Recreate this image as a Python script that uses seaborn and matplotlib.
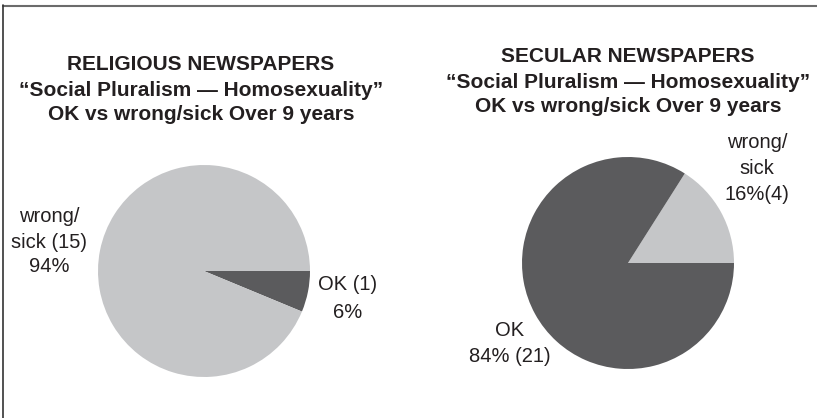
import matplotlib
matplotlib.use("Agg")
import matplotlib.pyplot as plt
import seaborn as sns
from matplotlib.lines import Line2D

# dane
categories = ["OK", "wrong/sick"]
religious_counts = [1, 15]
secular_counts = [21, 4]

religious_title = ["RELIGIOUS NEWSPAPERS",
                   "\u201cSocial Pluralism \u2014 Homosexuality\u201d",
                   "OK vs wrong/sick Over 9 years"]
secular_title = ["SECULAR NEWSPAPERS",
                 "\u201cSocial Pluralism \u2014 Homosexuality\u201d",
                 "OK vs wrong/sick Over 9 years"]

religious_labels = {"OK": ["OK (1)", "6%"],
                    "wrong/sick": ["wrong/", "sick (15)", "94%"]}
secular_labels = {"OK": ["OK", "84% (21)"],
                  "wrong/sick": ["wrong/", "sick", "16%(4)"]}

# styl
sns.set_style("white")
plt.rcParams["font.family"] = ["Liberation Sans", "DejaVu Sans"]
LIGHT = "#c5c6c8"
DARK = "#5b5b5d"
TXT = "#231f20"
W, H = 817, 418

fig = plt.figure(figsize=(W / 100, H / 100), dpi=100)


def px(x, y):
    # piksele od lewego-górnego rogu -> współrzędne figury
    return x / W, 1 - y / H


def draw_pie(cx, cy, r, values, colors, counterclock):
    ax = fig.add_axes([(cx - r) / W, (H - cy - r) / H, 2 * r / W, 2 * r / H])
    ax.pie(values, colors=colors, startangle=0, counterclock=counterclock,
           wedgeprops=dict(linewidth=0))
    ax.set_xlim(-1, 1)
    ax.set_ylim(-1, 1)
    ax.set_aspect("equal")
    ax.axis("off")
    return ax


def draw_lines(x, y0, lines, step, size=14.5, **kw):
    for i, line in enumerate(lines):
        fig.text(*px(x, y0 + i * step), line, ha="center", va="center",
                 color=TXT, fontsize=size, **kw)


# wykres 1 - gazety religijne (OK pierwszy, zgodnie z ruchem wskazówek)
draw_pie(204, 271, 106, religious_counts, [DARK, LIGHT], counterclock=False)
draw_lines(201, 65, religious_title, 25, size=15, fontweight="bold")
draw_lines(49, 217, religious_labels["wrong/sick"], 25)
draw_lines(348, 285, religious_labels["OK"], 27)

# wykres 2 - gazety świeckie (wrong/sick pierwszy, przeciwnie do wskazówek)
draw_pie(628, 263, 106, secular_counts[::-1], [LIGHT, DARK], counterclock=True)
draw_lines(628, 57, secular_title, 25, size=15, fontweight="bold")
draw_lines(757, 143, secular_labels["wrong/sick"], 26)
draw_lines(510, 330, secular_labels["OK"], 27)

# ramka (tylko góra i lewa strona)
fig.add_artist(Line2D([3 / W, 1], [1 - 5.5 / H] * 2, transform=fig.transFigure,
                      color="#6b6b6b", linewidth=1.5))
fig.add_artist(Line2D([3.5 / W] * 2, [0, 1 - 5 / H], transform=fig.transFigure,
                      color="#333333", linewidth=1.2))

plt.savefig("out.png", dpi=100)
plt.close()
